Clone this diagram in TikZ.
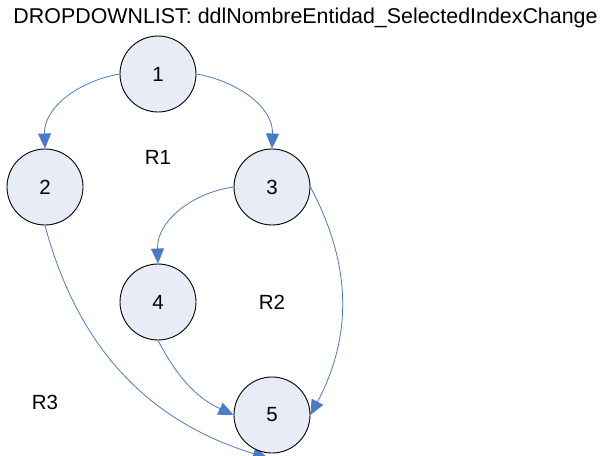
\documentclass[tikz,border=0pt]{standalone}
\usepackage{fontspec}
\setmainfont{Liberation Sans}
\usetikzlibrary{arrows.meta,backgrounds}
\definecolor{nodefill}{HTML}{E7ECF6}
\definecolor{edgeblue}{HTML}{4A7BC8}
\tikzset{
  stnode/.style={circle,draw=black,line width=0.9pt,fill=nodefill,minimum size=76pt,inner sep=0pt,font=\fontsize{20.5}{24}\selectfont},
  lbl/.style={font=\fontsize{20.5}{24}\selectfont,inner sep=0pt},
  flow/.style={draw=edgeblue,line width=0.8pt,-{Triangle[length=15pt,width=13pt]}}
}
\begin{document}
\begin{tikzpicture}[x=1pt,y=1pt]
\useasboundingbox (0,0) rectangle (601,-455);
\node[anchor=base,inner sep=0pt,font=\fontsize{21.4}{24}\selectfont] (title) at (305.5,-23) {DROPDOWNLIST: ddlNombreEntidad\_SelectedIndexChange};
\node[stnode] (n1) at (158,-74) {1};
\node[stnode] (n2) at (45,-187) {2};
\node[stnode] (n3) at (272,-187) {3};
\node[stnode] (n4) at (158,-302) {4};
\node[stnode] (n5) at (272,-415) {5};
\node[lbl] (r1) at (158,-157) {R1};
\node[lbl] (r2) at (272,-302) {R2};
\node[lbl] (r3) at (45,-402) {R3};
\coordinate (e25) at (268,-458);
\begin{scope}[on background layer]
\draw[flow] (n1.west) to[out=190,in=92] (n2.north);
\draw[flow] (n1.east) to[out=-10,in=88] (n3.north);
\draw[flow] (n3.west) to[out=188,in=92] (n4.north);
\draw[flow] (n3.east) to[out=-62,in=62] (n5.east);
\draw[flow] (n4.south) to[out=-62,in=155] (n5.west);
\draw[flow] (n2.south) to[out=-75,in=163] (e25);
\end{scope}
\end{tikzpicture}
\end{document}
